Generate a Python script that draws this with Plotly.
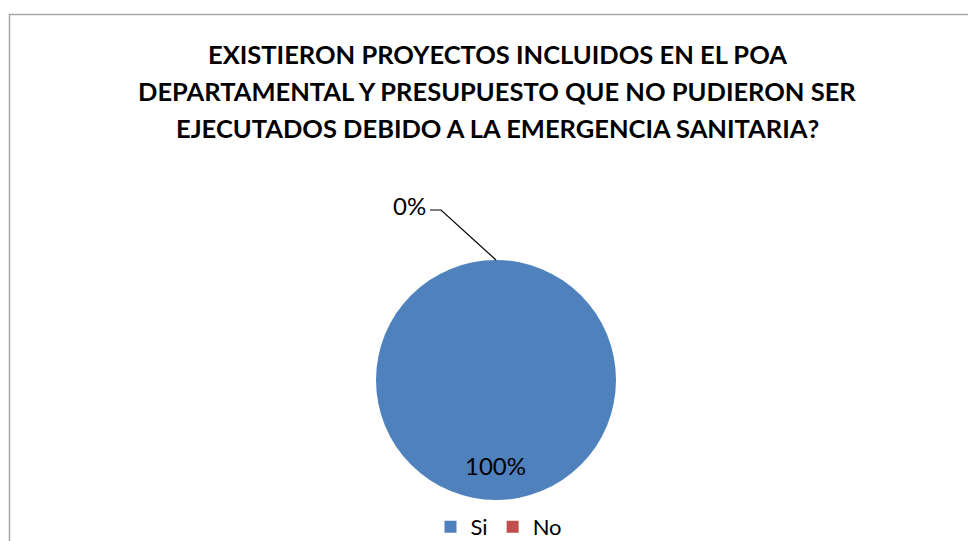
import plotly.graph_objects as go

categories = ["Si", "No"]
values = [100, 0]
colors = ["#4f81bd", "#c0504d"]
title_lines = [
    "EXISTIERON PROYECTOS INCLUIDOS EN EL POA",
    "DEPARTAMENTAL Y PRESUPUESTO QUE NO PUDIERON SER",
    "EJECUTADOS DEBIDO A LA EMERGENCIA SANITARIA?",
]

W, H = 968, 541
cx, cy, r = 496, 380, 120

fig = go.Figure(go.Pie(
    labels=categories,
    values=values,
    marker=dict(colors=colors, line=dict(width=0)),
    textinfo="none",
    sort=False,
    direction="clockwise",
    rotation=0,
    hoverinfo="label+percent",
    domain=dict(x=[(cx - r) / W, (cx + r) / W], y=[(H - cy - r) / H, (H - cy + r) / H]),
))

total = sum(values)
pct = [f"{v / total * 100:.0f}%" for v in values]

annotations = []
for i, line in enumerate(title_lines):
    annotations.append(dict(
        x=497 / W, y=1 - (54 + 37 * i) / H, xref="paper", yref="paper",
        text=f"<b>{line}</b>", showarrow=False, xanchor="center", yanchor="middle",
        font=dict(family="Lato", size=25.5, color="#000000"),
    ))
# Si label inside near bottom
annotations.append(dict(
    x=cx / W, y=1 - 465 / H, xref="paper", yref="paper", text=pct[0],
    showarrow=False, xanchor="center", yanchor="middle",
    font=dict(family="Lato", size=24, color="#000000"),
))
# No label outside with leader
annotations.append(dict(
    x=428 / W, y=1 - 205 / H, xref="paper", yref="paper", text=pct[1],
    showarrow=False, xanchor="right", yanchor="middle",
    font=dict(family="Lato", size=24, color="#000000"),
))

shapes = [
    dict(type="rect", xref="paper", yref="paper", x0=9.5 / W, y0=-0.05, x1=1.05, y1=1 - 14.5 / H,
         line=dict(color="#a6a6a6", width=1.5), fillcolor="rgba(0,0,0,0)"),
    dict(type="path", xref="paper", yref="paper",
         path=f"M {430 / W} {1 - 210 / H} L {441 / W} {1 - 210 / H} L {cx / W} {1 - 260 / H}",
         line=dict(color="#000000", width=1.2)),
]

fig.update_layout(
    width=W, height=H,
    margin=dict(l=0, r=0, t=0, b=0, autoexpand=False),
    paper_bgcolor="white", plot_bgcolor="white",
    showlegend=True,
    legend=dict(orientation="h", x=499 / W, y=1 - 527 / H, xanchor="center", yanchor="middle",
                font=dict(family="Lato", size=22, color="#000000"), itemwidth=30,
                traceorder="normal"),
    annotations=annotations,
    shapes=shapes,
)

fig.write_html("out.html", config={"displayModeBar": False},
               post_script="document.body.style.margin='0';document.body.style.overflow='hidden';")
